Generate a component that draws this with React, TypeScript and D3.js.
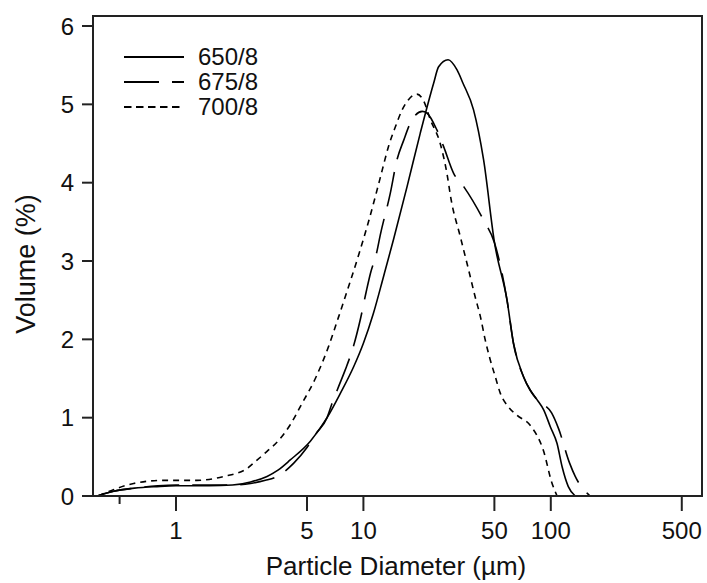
import React from "react";
import * as d3 from "d3";

const seriesNames = ["650/8", "675/8", "700/8"];

const d650 = [0.38, 0.465, 0.6, 0.79, 1.0, 1.5, 2.0, 2.5, 3.06, 3.5, 4.07, 5.21, 6.4, 7.53, 8.87, 10.0, 11.3, 12.8, 14.5, 17.1, 20.1, 23.7, 25.2, 28.3, 31.6, 34.0, 38.7, 43.8, 50.1, 58.4, 63.2, 71.6, 77.7, 84.4, 91.6, 99.4, 108, 115, 124, 135];
const v650 = [0, 0.06, 0.1, 0.12, 0.13, 0.13, 0.14, 0.18, 0.25, 0.33, 0.46, 0.7, 1.0, 1.31, 1.65, 1.95, 2.33, 2.8, 3.28, 3.95, 4.63, 5.27, 5.48, 5.57, 5.44, 5.27, 4.93, 4.29, 3.23, 2.5, 1.95, 1.52, 1.35, 1.23, 1.1, 0.885, 0.67, 0.37, 0.12, 0];

const d675 = [0.38, 0.465, 0.6, 0.8, 1.0, 1.5, 2.0, 2.5, 3.0, 3.46, 4.25, 5.0, 5.6, 6.4, 6.8, 7.38, 8.0, 8.87, 9.62, 10.4, 10.9, 11.8, 12.3, 13.9, 15.1, 16.4, 17.8, 18.9, 20.6, 21.8, 24.7, 26.8, 30.3, 34.3, 43.8, 50.1, 58.4, 63.2, 71.6, 77.7, 84.4, 101, 110, 126, 135, 162];
const v675 = [0, 0.06, 0.1, 0.13, 0.14, 0.14, 0.14, 0.16, 0.2, 0.25, 0.42, 0.62, 0.8, 1.0, 1.18, 1.4, 1.61, 1.92, 2.25, 2.63, 2.84, 3.12, 3.33, 3.86, 4.29, 4.54, 4.76, 4.86, 4.91, 4.89, 4.67, 4.46, 4.12, 3.95, 3.52, 3.23, 2.5, 1.95, 1.52, 1.35, 1.23, 1.06, 0.86, 0.42, 0.25, 0];

const d700 = [0.386, 0.463, 0.594, 0.859, 1.29, 1.8, 2.39, 2.65, 3.06, 3.53, 4.07, 4.7, 5.54, 6.52, 7.38, 8.51, 9.44, 10.7, 11.6, 12.6, 13.6, 14.8, 16.1, 17.4, 19.3, 20.9, 22.8, 25.7, 27.9, 29.4, 32.9, 36.4, 39.5, 42.1, 44.7, 47.5, 50.6, 53.8, 59.3, 66.0, 77.8, 91.6, 101, 108];
const v700 = [0, 0.08, 0.16, 0.2, 0.2, 0.25, 0.35, 0.44, 0.57, 0.71, 0.91, 1.18, 1.5, 1.91, 2.29, 2.74, 3.08, 3.52, 3.83, 4.16, 4.46, 4.71, 4.93, 5.06, 5.13, 5.05, 4.8, 4.5, 4.12, 3.78, 3.31, 2.89, 2.54, 2.29, 1.99, 1.74, 1.52, 1.31, 1.14, 1.03, 0.9, 0.57, 0.18, 0];

const xMajorTicks = [1, 5, 10, 50, 100, 500];
const xMinorTicks = [0.5];
const yTicks = [0, 1, 2, 3, 4, 5, 6];

const seriesDash = ["none", "35,13", "6,5"];

export default function App() {
  const W = 707, H = 583;
  const left = 93, right = 702, top = 16, bottom = 496;
  const x = d3.scaleLog().domain([0.3606, 641]).range([left, right]);
  const y = d3.scaleLinear().domain([0, 6.128]).range([bottom, top]);
  const line = d3
    .line<[number, number]>()
    .x((d) => x(d[0]))
    .y((d) => y(d[1]))
    .curve(d3.curveMonotoneX);

  const series = [
    { d: d650, v: v650 },
    { d: d675, v: v675 },
    { d: d700, v: v700 },
  ];
  const font = "'Liberation Sans', Arial, sans-serif";

  return (
    <svg width={W} height={H} style={{ position: "absolute", left: 0, top: 0, background: "#fff" }}>
      <rect x={0} y={0} width={W} height={H} fill="#fff" />
      {series.map((s, i) => (
        <path
          key={i}
          d={line(s.d.map((dv, j) => [dv, s.v[j]] as [number, number])) || ""}
          fill="none"
          stroke="#000"
          strokeWidth={1.6}
          strokeDasharray={seriesDash[i]}
        />
      ))}
      <rect x={left} y={top} width={right - left} height={bottom - top} fill="none" stroke="#222" strokeWidth={2} />
      {yTicks.map((t) => (
        <g key={"y" + t}>
          <line x1={82} x2={left} y1={y(t)} y2={y(t)} stroke="#222" strokeWidth={2} />
          <text x={74} y={y(t)} dy="0.36em" textAnchor="end" fontFamily={font} fontSize={24} fill="#111">
            {t}
          </text>
        </g>
      ))}
      {xMajorTicks.map((t) => (
        <g key={"x" + t}>
          <line x1={x(t)} x2={x(t)} y1={bottom} y2={bottom + 15} stroke="#222" strokeWidth={2} />
          <text x={x(t)} y={539} textAnchor="middle" fontFamily={font} fontSize={24} fill="#111">
            {t}
          </text>
        </g>
      ))}
      {xMinorTicks.map((t) => (
        <line key={"m" + t} x1={x(t)} x2={x(t)} y1={bottom} y2={bottom + 8} stroke="#222" strokeWidth={2} />
      ))}
      <text x={396} y={575} textAnchor="middle" fontFamily={font} fontSize={26} fill="#111">
        Particle Diameter (µm)
      </text>
      <text
        transform={`translate(35,264) rotate(-90)`}
        textAnchor="middle"
        fontFamily={font}
        fontSize={27}
        fill="#111"
      >
        Volume (%)
      </text>
      {seriesNames.map((n, i) => (
        <g key={n}>
          <line x1={124} x2={184} y1={57 + i * 25} y2={57 + i * 25} stroke="#000" strokeWidth={1.8} strokeDasharray={i === 2 ? "7.5,4.5" : seriesDash[i]} />
          <text x={198} y={65 + i * 25} fontFamily={font} fontSize={24} fill="#111">
            {n}
          </text>
        </g>
      ))}
    </svg>
  );
}
